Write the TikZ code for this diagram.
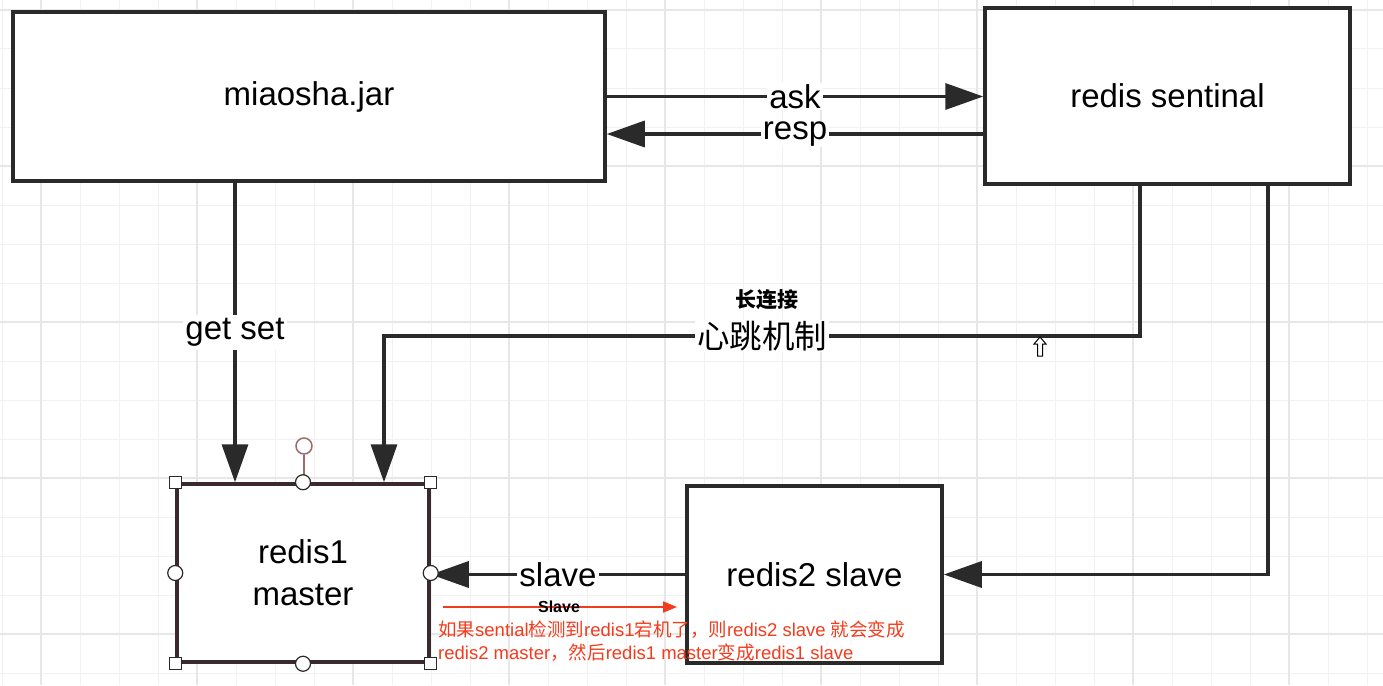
\documentclass[tikz,border=0pt]{standalone}
\usepackage{fontspec}
\setmainfont{Liberation Sans}
\newfontfamily\cjk{Noto Sans CJK SC}
\usetikzlibrary{arrows.meta}
\definecolor{ln}{HTML}{2A2A2A}
\definecolor{redc}{HTML}{F23C1E}
\definecolor{minorg}{HTML}{F1F1F1}
\definecolor{majorg}{HTML}{E7E7E7}
\definecolor{selb}{HTML}{3A2A2D}
\definecolor{rot}{HTML}{A06A6A}
\tikzset{
  box/.style={draw=ln, line width=3.5pt, fill=white, inner sep=0pt, align=center,
    font=\fontsize{33}{42}\selectfont},
  conn/.style={draw=ln, line width=3.5pt, -{Triangle[length=38pt,width=26pt]}},
  lbl/.style={fill=white, inner xsep=2pt, inner ysep=1pt, font=\fontsize{33}{40}\selectfont},
  minorline/.style={draw=minorg, line width=1pt},
  majorline/.style={draw=majorg, line width=1.2pt},
  handlesq/.style={draw=ln, fill=white, line width=1.2pt, minimum size=12pt, inner sep=0pt, rectangle},
  handleci/.style={draw=ln, fill=white, line width=1.2pt, minimum size=15pt, inner sep=0pt, circle},
  redtext/.style={text=redc, align=left, inner sep=0pt, font=\fontsize{18.5}{22.5}\selectfont},
}
\begin{document}
\begin{tikzpicture}[x=1pt,y=-1pt]
\useasboundingbox (0,0) rectangle (1383,685);
\fill[white] (0,0) rectangle (1383,685);
% grid
\foreach \k in {0,...,35} {\draw[minorline] ({2+39*\k},0) -- ({2+39*\k},685);}
\foreach \k in {0,...,17} {\draw[minorline] (0,{10+39*\k}) -- (1383,{10+39*\k});}
\foreach \k in {1,5,...,33} {\draw[majorline] ({2+39*\k},0) -- ({2+39*\k},685);}
\foreach \k in {0,4,...,16} {\draw[majorline] (0,{10+39*\k}) -- (1383,{10+39*\k});}

% boxes
\node[box, minimum width=592pt, minimum height=169pt] (jar) at (309,96.5) {miaosha.jar};
\node[box, minimum width=365pt, minimum height=176pt] (sent) at (1167.5,96) {redis sentinal};
\node[box, draw=selb, minimum width=252pt, minimum height=178pt] (r1) at (303,573) {redis1\\master};
\node[box, minimum width=255pt, minimum height=177pt] (r2) at (814.5,574.5) {redis2 slave};

% ask / resp
\draw[conn] (jar.east) -- (jar.east -| sent.west)
  node[lbl, midway] (askl) {ask};
\draw[conn] ([yshift=-38pt]sent.west) -- ([yshift=-38pt]sent.west -| jar.east)
  node[lbl, midway] (respl) {resp};

% get set
\draw[conn] ([xshift=-74pt]jar.south) -- ([xshift=-74pt]jar.south |- r1.north)
  node[lbl, midway, inner ysep=3pt] (getl) {get set};

% heartbeat
\coordinate (hbin) at ([xshift=81pt]r1.north);
\draw[conn] ([xshift=-27.5pt]sent.south) -- ++(0,150) coordinate (hbc)
  -- (hbc -| hbin) node[lbl, midway, font=\cjk\fontsize{32.5}{36}\selectfont] (hbl) {心跳机制}
  -- (hbin);
\node[font=\cjk\bfseries\fontsize{21}{24}\selectfont, inner sep=0pt] (lcl) at (767,300) {长连接};

% sentinel to redis2
\draw[conn] ([xshift=100.5pt]sent.south) |- (r2.east);

% slave
\draw[conn] (r2.west) -- (r2.west -| r1.east)
  node[lbl, midway] (slavel) {slave};

% red annotation arrow
\coordinate (ra1) at (443,607);
\coordinate (ra2) at (677,607);
\draw[redc, line width=2pt, -{Triangle[length=14pt,width=11pt]}] (ra1) -- (ra2);
\node[font=\bfseries\fontsize{16}{18}\selectfont, inner sep=0pt] (slv2) at (559,607) {Slave};
\node[redtext, anchor=north west] (note) at (438,621)
 {{\cjk 如果}sential{\cjk 检测到}redis1{\cjk 宕机了，则}redis2 slave {\cjk 就会变成}\\
  redis2 master{\cjk ，然后}redis1 master{\cjk 变成}redis1 slave};

% selection handles on redis1
\node[circle, draw=rot, fill=white, line width=1.5pt, minimum size=16pt, inner sep=0pt] (rh) at (304,446) {};
\draw[rot, line width=1.5pt] (rh.south) -- (rh.south |- r1.north);
\foreach \a in {north west, north east, south west, south east} {\node[handlesq] at (r1.\a) {};}
\foreach \a in {north, south, west, east} {\node[handleci] at (r1.\a) {};}

% cursor
\draw[black, fill=white, line width=1pt]
  (1040,337) -- (1046,344) -- (1042.5,344) -- (1042.5,356) -- (1037.5,356) -- (1037.5,344) -- (1034,344) -- cycle;
\end{tikzpicture}
\end{document}
